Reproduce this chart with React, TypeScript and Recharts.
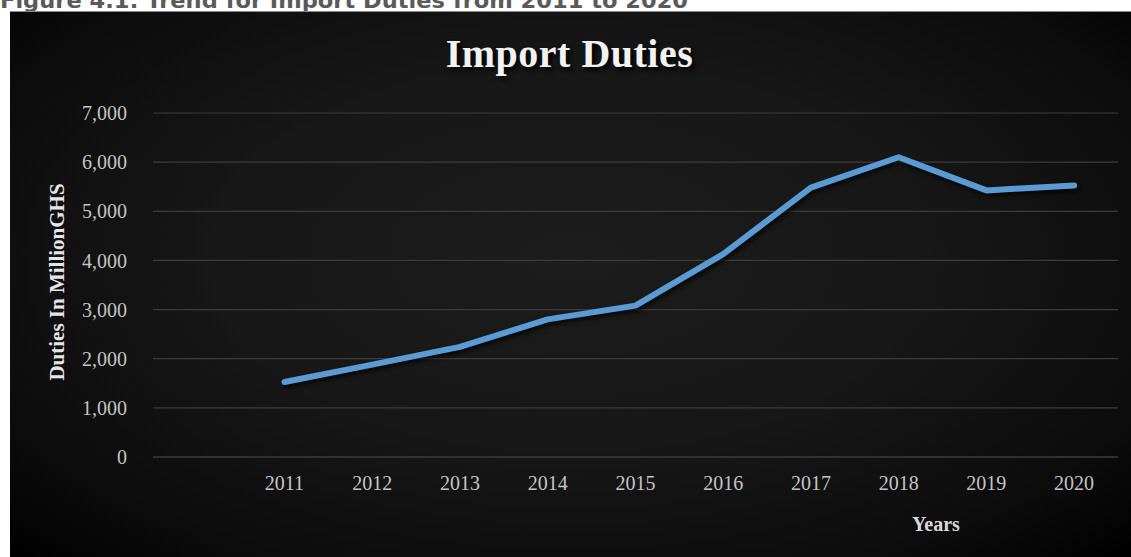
import { LineChart, Line, XAxis, YAxis, CartesianGrid } from 'recharts';

const years = ['2011', '2012', '2013', '2014', '2015', '2016', '2017', '2018', '2019', '2020'];
const duties = [1525, 1880, 2240, 2800, 3080, 4130, 5480, 6100, 5425, 5525];
const yTicks = [0, 1000, 2000, 3000, 4000, 5000, 6000, 7000];

const data = years.map((year, i) => ({ year, duties: duties[i] }));

const SERIF = '"Liberation Serif", "DejaVu Serif", serif';
const TICK_COLOR = '#c4c4c4';

export default function App() {
  return (
    <div
      style={{
        position: 'absolute',
        left: 0,
        top: 0,
        width: 1131,
        height: 557,
        background: '#fff',
        overflow: 'hidden',
      }}
    >
      {/* caption, partly cut off at the top of the page as in the source */}
      <svg width={1131} height={12} style={{ position: 'absolute', left: 0, top: 0 }}>
        <text
          x={0}
          y={8}
          textLength={688}
          lengthAdjust="spacingAndGlyphs"
          fill="#5a5a5a"
          fontWeight="bold"
          fontSize={21}
          fontFamily='"DejaVu Sans", sans-serif'
        >
          Figure 4.1: Trend for Import Duties from 2011 to 2020
        </text>
      </svg>

      {/* chart box */}
      <div
        style={{
          position: 'absolute',
          left: 10,
          top: 11,
          width: 1121,
          height: 546,
          borderTop: '1px solid #8a8a8a',
          boxSizing: 'border-box',
          background:
            'radial-gradient(ellipse at 50% 45%, #1c1c1c 0%, #171717 45%, #0c0c0c 80%, #000 100%)',
        }}
      >
        <style>{`.duty-line path { filter: drop-shadow(2px 3px 2px rgba(0,0,0,0.7)); }`}</style>
        <LineChart
          width={1121}
          height={545}
          data={data}
          margin={{ top: 101, right: 13, bottom: 0, left: 0 }}
        >
          <CartesianGrid vertical={false} stroke="#3c3c3c" strokeWidth={1.2} />
          <XAxis
            dataKey="year"
            padding={{ left: 131.5, right: 43.9 }}
            axisLine={{ stroke: '#3c3c3c', strokeWidth: 1.2 }}
            tickLine={false}
            tickSize={0}
            tickMargin={19}
            height={100}
            tick={{ fill: TICK_COLOR, fontSize: 20, fontFamily: SERIF }}
          />
          <YAxis
            domain={[0, 7000]}
            ticks={yTicks}
            width={143}
            axisLine={false}
            tickLine={false}
            tickSize={0}
            tickMargin={26}
            tickFormatter={(v: number) => v.toLocaleString('en-US')}
            tick={{ fill: TICK_COLOR, fontSize: 20, fontFamily: SERIF }}
          />
          <Line
            className="duty-line"
            type="linear"
            dataKey="duties"
            stroke="#5b9bd5"
            strokeWidth={6}
            strokeLinecap="round"
            strokeLinejoin="round"
            dot={false}
            activeDot={false}
            isAnimationActive={false}
          />
        </LineChart>
      </div>

      {/* titles */}
      <div
        style={{
          position: 'absolute',
          left: 0,
          width: 1131,
          top: 29,
          textAlign: 'center',
          fontFamily: SERIF,
          fontWeight: 'bold',
          fontSize: 40,
          letterSpacing: 0.5,
          color: '#f2f2f2',
          lineHeight: '50px',
          textShadow: '3px 3px 4px rgba(0,0,0,0.9)',
          paddingLeft: 4,
        }}
      >
        Import Duties
      </div>
      <div
        style={{
          position: 'absolute',
          left: 57,
          top: 282,
          transform: 'translate(-50%, -50%) rotate(-90deg)',
          whiteSpace: 'nowrap',
          fontFamily: SERIF,
          fontWeight: 'bold',
          fontSize: 21,
          color: '#e6e6e6',
        }}
      >
        Duties In MillionGHS
      </div>
      <div
        style={{
          position: 'absolute',
          left: 936,
          top: 524,
          transform: 'translate(-50%, -50%)',
          whiteSpace: 'nowrap',
          fontFamily: SERIF,
          fontWeight: 'bold',
          fontSize: 20,
          color: '#d9d9d9',
        }}
      >
        Years
      </div>
    </div>
  );
}
